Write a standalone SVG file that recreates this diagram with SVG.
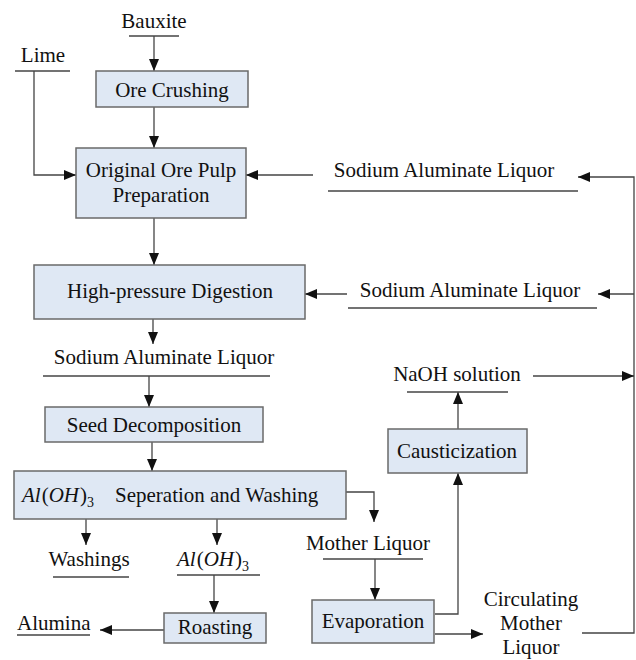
<svg xmlns="http://www.w3.org/2000/svg" width="636" height="660" viewBox="0 0 636 660">
<style>
text{font-family:"Liberation Serif","Times New Roman",serif;font-size:21px;fill:#111}
.c{text-anchor:middle}
.box{fill:#dfe8f4;stroke:#6a6a6a;stroke-width:1.5}
.ln{fill:none;stroke:#444;stroke-width:1.3}
.ul{fill:none;stroke:#444;stroke-width:1.3}
.it{font-style:italic}
.sub{font-size:14px}
</style>
<defs>
<marker id="ah" markerWidth="12" markerHeight="10" refX="12" refY="5" orient="auto" markerUnits="userSpaceOnUse">
<path d="M0,0 L12,5 L0,10 Z" fill="#111"/>
</marker>
</defs>
<rect width="636" height="660" fill="#fff"/>

<g id="connectors">
<path class="ln" d="M154,36 V71" marker-end="url(#ah)"/>
<path class="ln" d="M34,71 V175 H76" marker-end="url(#ah)"/>
<path class="ln" d="M154,107 V148" marker-end="url(#ah)"/>
<path class="ln" d="M313,175 H246" marker-end="url(#ah)"/>
<path class="ln" d="M582,633 H634 V177 H578" marker-end="url(#ah)"/>
<path class="ln" d="M634,294 H598" marker-end="url(#ah)"/>
<path class="ln" d="M533,376 H634" marker-end="url(#ah)"/>
<path class="ln" d="M347,294 H305" marker-end="url(#ah)"/>
<path class="ln" d="M154,218 V265" marker-end="url(#ah)"/>
<path class="ln" d="M153,319 V344" marker-end="url(#ah)"/>
<path class="ln" d="M149,376 V407" marker-end="url(#ah)"/>
<path class="ln" d="M152,442 V471" marker-end="url(#ah)"/>
<path class="ln" d="M86,519 V545" marker-end="url(#ah)"/>
<path class="ln" d="M217,519 V545" marker-end="url(#ah)"/>
<path class="ln" d="M214,575 V613" marker-end="url(#ah)"/>
<path class="ln" d="M164,630 H100" marker-end="url(#ah)"/>
<path class="ln" d="M346,492 H374 V522" marker-end="url(#ah)"/>
<path class="ln" d="M375,559 V600" marker-end="url(#ah)"/>
<path class="ln" d="M435,614 H458 V473" marker-end="url(#ah)"/>
<path class="ln" d="M458,429 V392" marker-end="url(#ah)"/>
<path class="ln" d="M435,634 H483" marker-end="url(#ah)"/>
</g>

<g id="bauxite">
<text class="c" x="154" y="28">Bauxite</text>
<line class="ul" x1="129" y1="36" x2="179" y2="36"/>
</g>
<g id="lime">
<text class="c" x="43" y="62">Lime</text>
<line class="ul" x1="15" y1="71" x2="70" y2="71"/>
</g>
<g id="ore-crushing">
<rect class="box" x="96" y="71" width="152" height="36"/>
<text class="c" x="172" y="97">Ore Crushing</text>
</g>
<g id="pulp-preparation">
<rect class="box" x="76" y="148" width="170" height="70"/>
<text class="c" x="161" y="177">Original Ore Pulp</text>
<text class="c" x="161" y="202">Preparation</text>
</g>
<g id="sal-top">
<text class="c" x="444" y="177">Sodium Aluminate Liquor</text>
<line class="ul" x1="328" y1="191" x2="578" y2="191"/>
</g>
<g id="high-pressure-digestion">
<rect class="box" x="34" y="265" width="271" height="54"/>
<text class="c" x="170" y="298">High-pressure Digestion</text>
</g>
<g id="sal-mid">
<text class="c" x="470" y="297">Sodium Aluminate Liquor</text>
<line class="ul" x1="348" y1="308" x2="597" y2="308"/>
</g>
<g id="sal-bottom">
<text class="c" x="164" y="364">Sodium Aluminate Liquor</text>
<line class="ul" x1="43" y1="376" x2="270" y2="376"/>
</g>
<g id="seed-decomposition">
<rect class="box" x="45" y="407" width="218" height="35"/>
<text class="c" x="154" y="432">Seed Decomposition</text>
</g>
<g id="separation-washing">
<rect class="box" x="14" y="471" width="332" height="48"/>
<text x="22" y="502"><tspan class="it">Al</tspan><tspan dx="1">(</tspan><tspan class="it">OH</tspan><tspan dx="1">)</tspan><tspan class="sub" dy="5">3</tspan></text>
<text x="115" y="502">Seperation and Washing</text>
</g>
<g id="washings">
<text class="c" x="89" y="566">Washings</text>
<line class="ul" x1="53" y1="577" x2="129" y2="577"/>
</g>
<g id="aloh3">
<text x="177" y="566"><tspan class="it">Al</tspan><tspan dx="1">(</tspan><tspan class="it">OH</tspan><tspan dx="1">)</tspan><tspan class="sub" dy="5">3</tspan></text>
<line class="ul" x1="177" y1="575" x2="260" y2="575"/>
</g>
<g id="roasting">
<rect class="box" x="164" y="613" width="102" height="30"/>
<text class="c" x="215" y="634">Roasting</text>
</g>
<g id="alumina">
<text x="17" y="630">Alumina</text>
<line class="ul" x1="17" y1="635" x2="90" y2="635"/>
</g>
<g id="mother-liquor">
<text class="c" x="368" y="550">Mother Liquor</text>
<line class="ul" x1="323" y1="559" x2="423" y2="559"/>
</g>
<g id="evaporation">
<rect class="box" x="312" y="600" width="122" height="43"/>
<text class="c" x="373" y="628">Evaporation</text>
</g>
<g id="causticization">
<rect class="box" x="388" y="429" width="139" height="44"/>
<text class="c" x="457" y="458">Causticization</text>
</g>
<g id="naoh-solution">
<text class="c" x="457" y="381">NaOH solution</text>
<line class="ul" x1="407" y1="392" x2="508" y2="392"/>
</g>
<g id="circulating-mother-liquor">
<text class="c" x="531" y="606">Circulating</text>
<text class="c" x="531" y="630">Mother</text>
<text class="c" x="531" y="654">Liquor</text>
</g>
</svg>
